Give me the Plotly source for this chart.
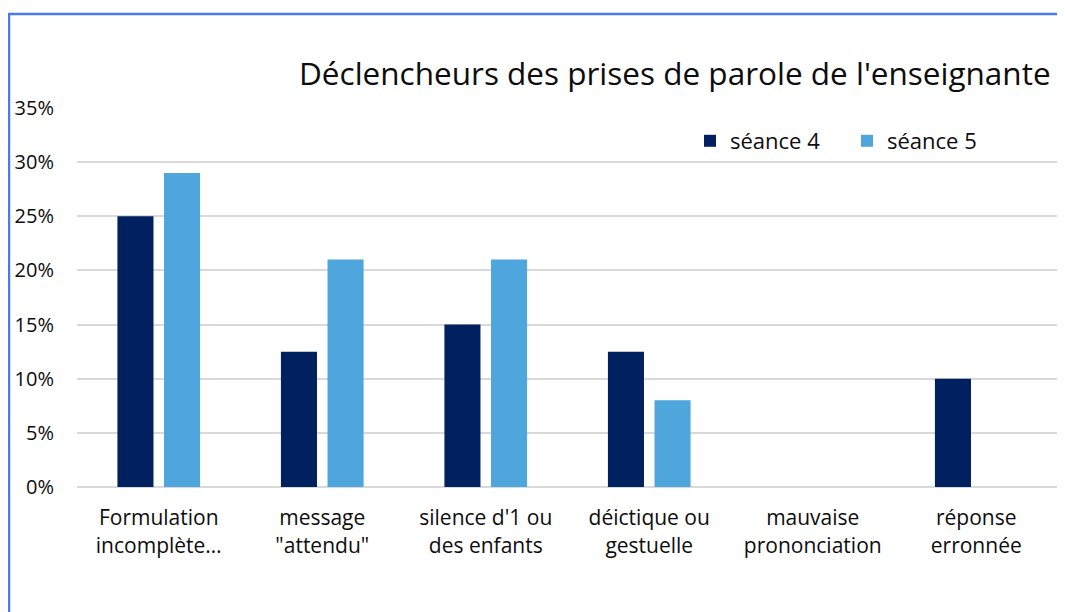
import plotly.graph_objects as go

categories = ["Formulation<br>incomplète…", "message<br>\"attendu\"", "silence d'1 ou<br>des enfants",
              "déictique ou<br>gestuelle", "mauvaise<br>prononciation", "réponse<br>erronnée"]
seance4 = [0.25, 0.125, 0.15, 0.125, 0.0, 0.10]
seance5 = [0.29, 0.21, 0.21, 0.08, 0.0, 0.0]
series_names = ["séance 4", "séance 5"]
tick_vals = [0, 0.05, 0.10, 0.15, 0.20, 0.25, 0.30, 0.35]
tick_text = ["0%", "5%", "10%", "15%", "20%", "25%", "30%", "35%"]
title_text = "Déclencheurs des prises de parole de l'enseignante"

FONT = "Open Sans"
OFF = 8  # page body margin
W, H = 1065 - OFF, 612 - OFF
# screen-pixel layout of the plot area
X0, X1, Y0, Y1 = 77, 1058, 108, 487
ML, MR, MT, MB = X0 - OFF, W - (X1 - OFF), Y0 - OFF, H - (Y1 - OFF)
PW, PH = W - ML - MR, H - MT - MB

def px_x(px):
    return (px - OFF - ML) / PW

def px_y(py):
    return (H - MB - (py - OFF)) / PH

fig = go.Figure()
fig.add_trace(go.Bar(x=categories, y=seance4, name=series_names[0], marker=dict(color="#002060", line=dict(width=0))))
fig.add_trace(go.Bar(x=categories, y=seance5, name=series_names[1], marker=dict(color="#4EA6DC", line=dict(width=0))))

fig.update_layout(
    width=W, height=H,
    margin=dict(l=ML, r=MR, t=MT, b=MB, autoexpand=False),
    paper_bgcolor="white", plot_bgcolor="white",
    barmode="group", bargap=0.43, bargroupgap=0.226,
    font=dict(family=FONT, size=20, color="#0d0d0d"),
    showlegend=True,
    legend=dict(orientation="h", x=px_x(690), y=px_y(141), xanchor="left", yanchor="middle",
                font=dict(family=FONT, size=22, color="#0d0d0d"), bgcolor="rgba(0,0,0,0)",
                traceorder="normal", itemclick=False, entrywidth=112),
)
fig.update_xaxes(showgrid=False, showline=False, zeroline=False, ticks="outside", ticklen=12,
                 tickcolor="rgba(0,0,0,0)", tickfont=dict(family=FONT, size=21, color="#0d0d0d"),
                 fixedrange=True)
fig.update_yaxes(range=[0, 0.35], tickvals=tick_vals, ticktext=tick_text, showgrid=True,
                 gridcolor="#d9d9d9", gridwidth=1.5, zeroline=True, zerolinecolor="#d9d9d9",
                 zerolinewidth=1.5, showline=False, ticks="", ticklabelstandoff=22,
                 tickfont=dict(family=FONT, size=20, color="#0d0d0d"), fixedrange=True)

fig.add_annotation(text=title_text, xref="paper", yref="paper", x=px_x(297), y=px_y(72),
                   xanchor="left", yanchor="middle", showarrow=False,
                   font=dict(family=FONT, size=31.5, color="#0d0d0d"))

# outer chart-area border (left and top edges visible)
fig.add_shape(type="path", xref="paper", yref="paper",
              path=f"M {px_x(9)},{px_y(640)} L {px_x(9)},{px_y(14)} L {px_x(1100)},{px_y(14)}",
              line=dict(color="#4A7BE8", width=2.5), layer="above")

fig.write_html("out.html")
